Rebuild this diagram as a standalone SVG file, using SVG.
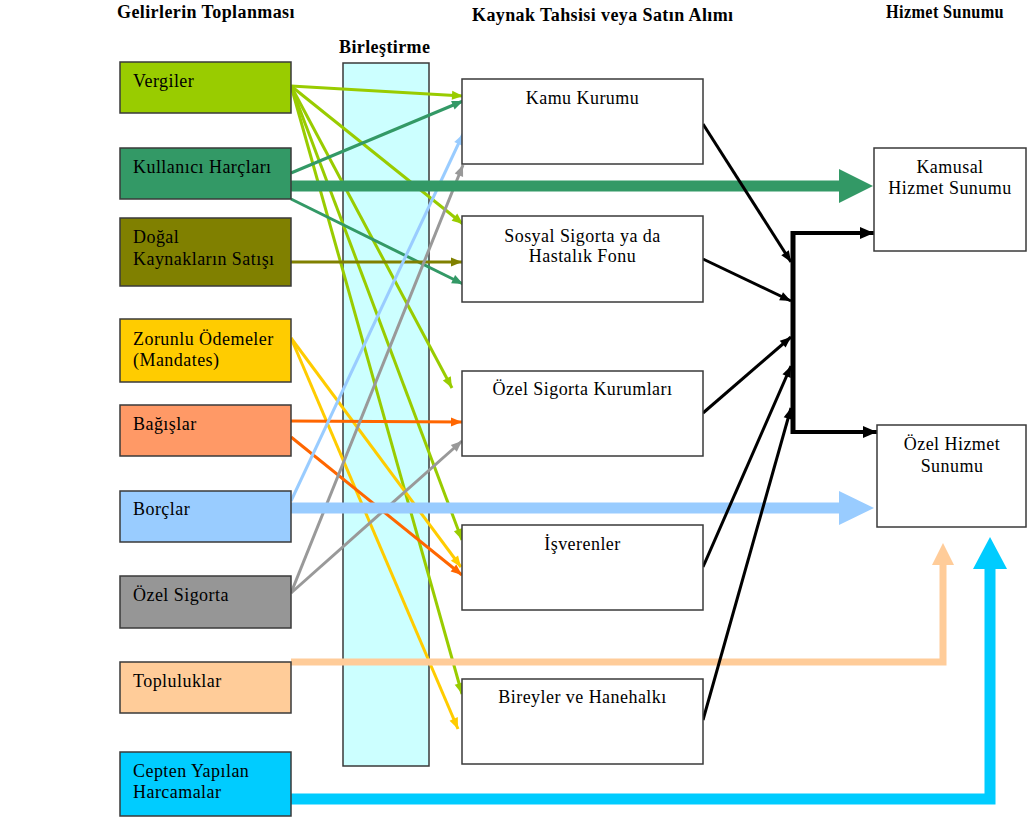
<svg xmlns="http://www.w3.org/2000/svg" width="1027" height="818" viewBox="0 0 1027 818">
<style>
.box{stroke:#3a3a3a;stroke-width:1.5}
.wbox{fill:#ffffff;stroke:#3a3a3a;stroke-width:1.5}
.lbl{font-family:"Liberation Serif","Times New Roman",serif;font-size:18px;letter-spacing:0.45px;fill:#000}
.mid{text-anchor:middle}
.ttl{font-family:"Liberation Serif","Times New Roman",serif;font-size:18px;font-weight:bold;letter-spacing:0.4px;fill:#000}
.thin{fill:none;stroke-width:3}
</style>
<defs>
<marker id="aVer" markerUnits="userSpaceOnUse" markerWidth="12" markerHeight="10" refX="11" refY="4.5" orient="auto" overflow="visible"><path d="M0,0 L11,4.5 L0,9 z" fill="#99cc00"/></marker>
<marker id="aKul" markerUnits="userSpaceOnUse" markerWidth="12" markerHeight="10" refX="11" refY="4.5" orient="auto" overflow="visible"><path d="M0,0 L11,4.5 L0,9 z" fill="#339966"/></marker>
<marker id="aDog" markerUnits="userSpaceOnUse" markerWidth="12" markerHeight="10" refX="11" refY="4.5" orient="auto" overflow="visible"><path d="M0,0 L11,4.5 L0,9 z" fill="#808000"/></marker>
<marker id="aZor" markerUnits="userSpaceOnUse" markerWidth="12" markerHeight="10" refX="11" refY="4.5" orient="auto" overflow="visible"><path d="M0,0 L11,4.5 L0,9 z" fill="#ffcc00"/></marker>
<marker id="aBag" markerUnits="userSpaceOnUse" markerWidth="12" markerHeight="10" refX="11" refY="4.5" orient="auto" overflow="visible"><path d="M0,0 L11,4.5 L0,9 z" fill="#ff6600"/></marker>
<marker id="aBor" markerUnits="userSpaceOnUse" markerWidth="12" markerHeight="10" refX="11" refY="4.5" orient="auto" overflow="visible"><path d="M0,0 L11,4.5 L0,9 z" fill="#99ccff"/></marker>
<marker id="aOzs" markerUnits="userSpaceOnUse" markerWidth="12" markerHeight="10" refX="11" refY="4.5" orient="auto" overflow="visible"><path d="M0,0 L11,4.5 L0,9 z" fill="#999999"/></marker>
<marker id="aBlk" markerUnits="userSpaceOnUse" markerWidth="12" markerHeight="10" refX="11" refY="4.5" orient="auto" overflow="visible"><path d="M0,0 L11,4.5 L0,9 z" fill="#000"/></marker>
<marker id="aBlkL" markerUnits="userSpaceOnUse" markerWidth="14" markerHeight="12" refX="14" refY="6" orient="auto" overflow="visible"><path d="M0,0 L14,6 L0,12 z" fill="#000"/></marker>
</defs>
<rect width="1027" height="818" fill="#ffffff"/>

<!-- titles -->
<text class="ttl" x="117" y="18">Gelirlerin Toplanması</text>
<text class="ttl" x="339" y="53">Birleştirme</text>
<text class="ttl" x="472" y="21">Kaynak Tahsisi veya Satın Alımı</text>
<text class="ttl" x="886" y="18" textLength="118" lengthAdjust="spacingAndGlyphs">Hizmet Sunumu</text>

<!-- merge column -->
<g id="birlestirme">
<rect x="343" y="63" width="86" height="703" fill="#ccffff" class="box"/>
</g>

<!-- connectors -->
<g id="connectors">
<line class="thin" stroke="#99cc00" x1="291" y1="86" x2="463" y2="96" marker-end="url(#aVer)"/>
<line class="thin" stroke="#99cc00" x1="291" y1="86" x2="463" y2="224" marker-end="url(#aVer)"/>
<line class="thin" stroke="#99cc00" x1="291" y1="86" x2="452" y2="388" marker-end="url(#aVer)"/>
<line class="thin" stroke="#99cc00" x1="291" y1="86" x2="462" y2="540" marker-end="url(#aVer)"/>
<line class="thin" stroke="#99cc00" x1="291" y1="86" x2="462" y2="694" marker-end="url(#aVer)"/>
<line class="thin" stroke="#339966" x1="291" y1="173" x2="463" y2="101" marker-end="url(#aKul)"/>
<line class="thin" stroke="#339966" x1="291" y1="199" x2="463" y2="284" marker-end="url(#aKul)"/>
<line class="thin" stroke="#808000" x1="291" y1="262" x2="462" y2="262" marker-end="url(#aDog)"/>
<line class="thin" stroke="#ffcc00" x1="291" y1="338" x2="461" y2="567" marker-end="url(#aZor)"/>
<line class="thin" stroke="#ffcc00" x1="291" y1="338" x2="458" y2="729" marker-end="url(#aZor)"/>
<line class="thin" stroke="#ff6600" x1="291" y1="421" x2="462" y2="422" marker-end="url(#aBag)"/>
<line class="thin" stroke="#ff6600" x1="291" y1="437" x2="462" y2="575" marker-end="url(#aBag)"/>
<line class="thin" stroke="#99ccff" x1="291" y1="501" x2="463" y2="134" marker-end="url(#aBor)"/>
<line class="thin" stroke="#999999" x1="291" y1="593" x2="463" y2="165" marker-end="url(#aOzs)"/>
<line class="thin" stroke="#999999" x1="291" y1="593" x2="462" y2="441" marker-end="url(#aOzs)"/>

<line x1="291" y1="186" x2="841" y2="186" stroke="#339966" stroke-width="11"/>
<polygon points="839,169 873,186 839,203" fill="#339966"/>
<line x1="291" y1="508" x2="841" y2="508" stroke="#99ccff" stroke-width="11"/>
<polygon points="839,491 874,508 839,525" fill="#99ccff"/>
<polyline points="291,662 943,662 943,563" fill="none" stroke="#ffcc99" stroke-width="7"/>
<polygon points="932,565 943,543 954,565" fill="#ffcc99"/>
<polyline points="291,799 990,799 990,567" fill="none" stroke="#00ccff" stroke-width="11"/>
<polygon points="973,569 990,537 1007,569" fill="#00ccff"/>

<line x1="703" y1="124" x2="791" y2="262" stroke="#000" stroke-width="3" marker-end="url(#aBlk)"/>
<line x1="703" y1="259" x2="791" y2="301" stroke="#000" stroke-width="3" marker-end="url(#aBlk)"/>
<line x1="703" y1="413" x2="791" y2="337" stroke="#000" stroke-width="3" marker-end="url(#aBlk)"/>
<line x1="703" y1="567" x2="791" y2="366" stroke="#000" stroke-width="3" marker-end="url(#aBlk)"/>
<line x1="703" y1="720" x2="791" y2="408" stroke="#000" stroke-width="3" marker-end="url(#aBlk)"/>
<line x1="793" y1="231" x2="793" y2="434" stroke="#000" stroke-width="5"/>
<line x1="791" y1="233" x2="874" y2="233" stroke="#000" stroke-width="4" marker-end="url(#aBlkL)"/>
<line x1="791" y1="432" x2="877" y2="432" stroke="#000" stroke-width="4" marker-end="url(#aBlkL)"/>
</g>

<!-- left nodes -->
<g id="vergiler"><rect x="120" y="62" width="171" height="51" fill="#99cc00" class="box"/><text class="lbl" x="133" y="87">Vergiler</text></g>
<g id="kullanici"><rect x="120" y="148" width="171" height="51" fill="#339966" class="box"/><text class="lbl" x="133" y="173">Kullanıcı Harçları</text></g>
<g id="dogal"><rect x="120" y="218" width="171" height="68" fill="#808000" class="box"/><text class="lbl" x="133" y="243">Doğal</text><text class="lbl" x="133" y="265">Kaynakların Satışı</text></g>
<g id="zorunlu"><rect x="120" y="319" width="171" height="63" fill="#ffcc00" class="box"/><text class="lbl" x="133" y="345">Zorunlu Ödemeler</text><text class="lbl" x="133" y="366">(Mandates)</text></g>
<g id="bagislar"><rect x="120" y="405" width="171" height="51" fill="#ff9966" class="box"/><text class="lbl" x="133" y="430">Bağışlar</text></g>
<g id="borclar"><rect x="120" y="491" width="171" height="51" fill="#99ccff" class="box"/><text class="lbl" x="133" y="515">Borçlar</text></g>
<g id="ozelsigorta"><rect x="120" y="576" width="171" height="52" fill="#969696" class="box"/><text class="lbl" x="133" y="601">Özel Sigorta</text></g>
<g id="topluluklar"><rect x="120" y="662" width="171" height="51" fill="#ffcc99" class="box"/><text class="lbl" x="133" y="687">Topluluklar</text></g>
<g id="cepten"><rect x="120" y="752" width="171" height="64" fill="#00ccff" class="box"/><text class="lbl" x="133" y="777">Cepten Yapılan</text><text class="lbl" x="133" y="798">Harcamalar</text></g>

<!-- middle nodes -->
<g id="kamu"><rect x="462" y="79" width="241" height="85" class="wbox"/><text class="lbl mid" x="582.5" y="104">Kamu Kurumu</text></g>
<g id="sosyal"><rect x="462" y="216" width="241" height="86" class="wbox"/><text class="lbl mid" x="582.5" y="242">Sosyal Sigorta ya da</text><text class="lbl mid" x="582.5" y="262">Hastalık Fonu</text></g>
<g id="ozelkurum"><rect x="462" y="371" width="241" height="85" class="wbox"/><text class="lbl mid" x="582.5" y="395">Özel Sigorta Kurumları</text></g>
<g id="isverenler"><rect x="462" y="525" width="241" height="85" class="wbox"/><text class="lbl mid" x="582.5" y="550">İşverenler</text></g>
<g id="bireyler"><rect x="462" y="679" width="241" height="85" class="wbox"/><text class="lbl mid" x="582.5" y="703">Bireyler ve Hanehalkı</text></g>

<!-- right nodes -->
<g id="kamusal"><rect x="874" y="148" width="152" height="103" class="wbox"/><text class="lbl mid" x="950" y="173">Kamusal</text><text class="lbl mid" x="950" y="194">Hizmet Sunumu</text></g>
<g id="ozelhizmet"><rect x="877" y="425" width="149" height="102" class="wbox"/><text class="lbl mid" x="952" y="450">Özel Hizmet</text><text class="lbl mid" x="952" y="472">Sunumu</text></g>
</svg>
